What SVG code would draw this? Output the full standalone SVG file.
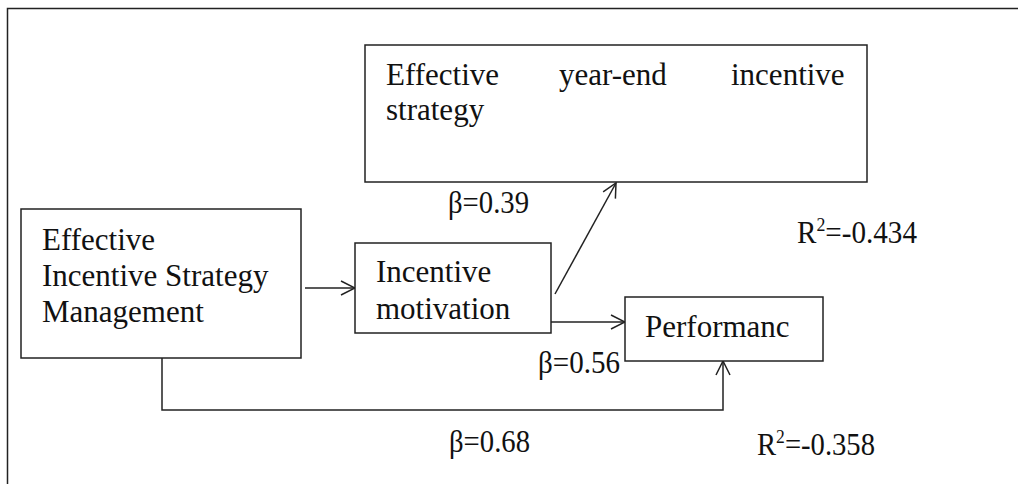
<svg xmlns="http://www.w3.org/2000/svg" width="1018" height="484" viewBox="0 0 1018 484">
<style>
  .box { fill: #fff; stroke: #222; stroke-width: 1.5; }
  .t { font-family: "Liberation Serif", "Times New Roman", serif; font-size: 31px; fill: #111; }
  .c { fill: none; stroke: #222; stroke-width: 1.5; }
</style>
<defs>
  <marker id="arr" markerUnits="userSpaceOnUse" markerWidth="16" markerHeight="16" viewBox="0 0 16 16" refX="15" refY="8" orient="auto">
    <path d="M1,1 L15,8 L1,15" fill="none" stroke="#222" stroke-width="1.5"/>
  </marker>
</defs>
<rect width="1018" height="484" fill="#fff"/>
<g id="frame">
  <path d="M7.5,484 L7.5,8.5 L1018,8.5" class="c"/>
</g>
<g id="connectors">
  <line x1="305" y1="288" x2="355" y2="288" class="c" marker-end="url(#arr)"/>
  <line x1="551" y1="322" x2="625" y2="322" class="c" marker-end="url(#arr)"/>
  <line x1="555" y1="294" x2="616" y2="183" class="c" marker-end="url(#arr)"/>
  <path d="M162,358 L162,410 L723,410 L723,361" class="c" marker-end="url(#arr)"/>
</g>
<g id="node-yearend">
  <rect x="365" y="45" width="502" height="137" class="box"/>
  <text class="t" x="386" y="85">Effective</text>
  <text class="t" x="559" y="85">year-end</text>
  <text class="t" x="731" y="85">incentive</text>
  <text class="t" x="386" y="120">strategy</text>
</g>
<g id="node-management">
  <rect x="21" y="209" width="280" height="149" class="box"/>
  <text class="t" x="42" y="250">Effective</text>
  <text class="t" x="42" y="286">Incentive Strategy</text>
  <text class="t" x="42" y="322">Management</text>
</g>
<g id="node-motivation">
  <rect x="355" y="243" width="196" height="90" class="box"/>
  <text class="t" x="376" y="282">Incentive</text>
  <text class="t" x="376" y="319">motivation</text>
</g>
<g id="node-performance">
  <rect x="625" y="297" width="198" height="64" class="box"/>
  <text class="t" x="645" y="337">Performanc</text>
</g>
<g id="labels">
  <text class="t" x="448" y="213" textLength="81" lengthAdjust="spacingAndGlyphs">β=0.39</text>
  <text class="t" x="538" y="373" textLength="82" lengthAdjust="spacingAndGlyphs">β=0.56</text>
  <text class="t" x="449" y="452" textLength="81" lengthAdjust="spacingAndGlyphs">β=0.68</text>
  <text class="t" x="797" y="243" textLength="120" lengthAdjust="spacingAndGlyphs">R<tspan font-size="19" dy="-12">2</tspan><tspan dy="12">=-0.434</tspan></text>
  <text class="t" x="757" y="455" textLength="118" lengthAdjust="spacingAndGlyphs">R<tspan font-size="19" dy="-12">2</tspan><tspan dy="12">=-0.358</tspan></text>
</g>
</svg>
